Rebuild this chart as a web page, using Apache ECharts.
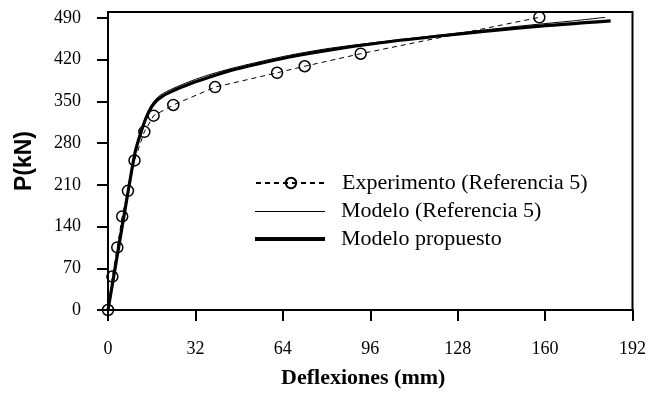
<!DOCTYPE html>
<html>
<head>
<meta charset="utf-8">
<script src="https://cdn.jsdelivr.net/npm/echarts@6/dist/echarts.min.js"></script>
<style>
  html, body { margin: 0; padding: 0; background: #fff; }
  #chart { width: 649px; height: 394px; }
</style>
</head>
<body>
<div id="chart"></div>
<script>
// Load–deflection curves: deflection (mm) vs load P (kN)
const experimentoX = [0, 1.6, 3.4, 5.2, 7.3, 9.7, 13.3, 16.7, 23.9, 39.2, 61.9, 72, 92.5, 157.9];
const experimentoY = [0, 56, 105, 157, 200, 251, 299, 326, 344, 374, 398, 409, 430, 491];

const modeloRefX = [0, 4, 8, 10, 12, 14, 16, 18, 20, 23, 27, 32, 38, 45, 54, 66, 81, 100, 125, 150, 170, 182];
const modeloRefY = [0, 110, 218, 269, 301, 327, 345, 356, 363, 370, 378, 387, 396, 405, 415, 427, 439, 450, 463, 476, 485, 491];

const propuestoX = [0, 4, 8, 10, 12, 14, 16, 18, 20, 23, 27, 32, 38, 45, 54, 66, 81, 99, 124, 155, 184];
const propuestoY = [0, 108, 216, 266, 297, 323, 341, 352, 359, 366, 374, 383, 392, 402, 412, 424, 436, 448, 461, 475, 485];

const xTicks = [0, 32, 64, 96, 128, 160, 192];
const yTicks = [0, 70, 140, 210, 280, 350, 420, 490];

const seriesNames = ['Experimento (Referencia 5)', 'Modelo (Referencia 5)', 'Modelo propuesto'];

const pairs = (xs, ys) => xs.map((x, i) => [x, ys[i]]);

const serif = '"Liberation Serif", "Times New Roman", serif';
const legendText = { fontFamily: serif, fontSize: 22, lineHeight: 22, color: '#000', padding: [0, 0, 0, 11] };

// one legend block per row so each sample can have its own stroke
function legendRow(name, top, itemHeight, icon) {
  return {
    orient: 'vertical',
    left: 255,
    top: top,
    padding: 0,
    itemWidth: 70,
    itemHeight: itemHeight,
    data: [icon ? { name: name, icon: icon } : name],
    textStyle: legendText
  };
}

const chart = echarts.init(document.getElementById('chart'), null, { renderer: 'canvas' });

chart.setOption({
  animation: false,
  backgroundColor: '#ffffff',
  grid: {
    left: 108, right: 14, top: 12, bottom: 80,
    show: true, borderColor: '#000', borderWidth: 2, backgroundColor: 'transparent'
  },
  legend: [
    legendRow(seriesNames[0], 172, 13),
    legendRow(seriesNames[1], 200.5, 1, 'rect'),
    legendRow(seriesNames[2], 228, 4, 'rect')
  ],
  xAxis: {
    type: 'value',
    min: xTicks[0],
    max: xTicks[xTicks.length - 1],
    interval: 32,
    name: 'Deflexiones (mm)',
    nameLocation: 'middle',
    nameGap: 57,
    nameTextStyle: { fontFamily: serif, fontWeight: 'bold', fontSize: 22, color: '#000', padding: [0, 14, 0, 0] },
    axisLine: { show: true, onZero: false, lineStyle: { color: '#000', width: 2 } },
    axisTick: { show: true, inside: false, length: 11, lineStyle: { color: '#000', width: 2 } },
    axisLabel: { fontFamily: serif, fontSize: 18, color: '#000', margin: 30 },
    splitLine: { show: false }
  },
  yAxis: {
    type: 'value',
    min: 0,
    max: 500,
    interval: 70,
    name: 'P(kN)',
    nameLocation: 'middle',
    nameGap: 72,
    nameTextStyle: { fontFamily: '"Liberation Sans", Arial, sans-serif', fontWeight: 'bold', fontSize: 23, color: '#000' },
    axisLine: { show: true, onZero: false, lineStyle: { color: '#000', width: 2 } },
    axisTick: { show: true, inside: false, length: 11, lineStyle: { color: '#000', width: 2 }, customValues: yTicks },
    axisLabel: { fontFamily: serif, fontSize: 18, color: '#000', margin: 27, customValues: yTicks },
    splitLine: { show: false }
  },
  series: [
    {
      name: seriesNames[0],
      type: 'line',
      data: pairs(experimentoX, experimentoY),
      symbol: 'circle',
      symbolSize: 11,
      itemStyle: { color: 'rgba(255,255,255,0)', borderColor: '#000', borderWidth: 1.5 },
      lineStyle: { color: '#000', width: 1, type: [5, 4] },
      z: 3
    },
    {
      name: seriesNames[1],
      type: 'line',
      data: pairs(modeloRefX, modeloRefY),
      showSymbol: false,
      symbol: 'none',
      smooth: 0.3,
      itemStyle: { color: '#000' },
      lineStyle: { color: '#000', width: 1 },
      z: 2
    },
    {
      name: seriesNames[2],
      type: 'line',
      data: pairs(propuestoX, propuestoY),
      showSymbol: false,
      symbol: 'none',
      smooth: 0.3,
      itemStyle: { color: '#000' },
      lineStyle: { color: '#000', width: 3.2 },
      z: 2
    }
  ]
});
</script>
</body>
</html>
